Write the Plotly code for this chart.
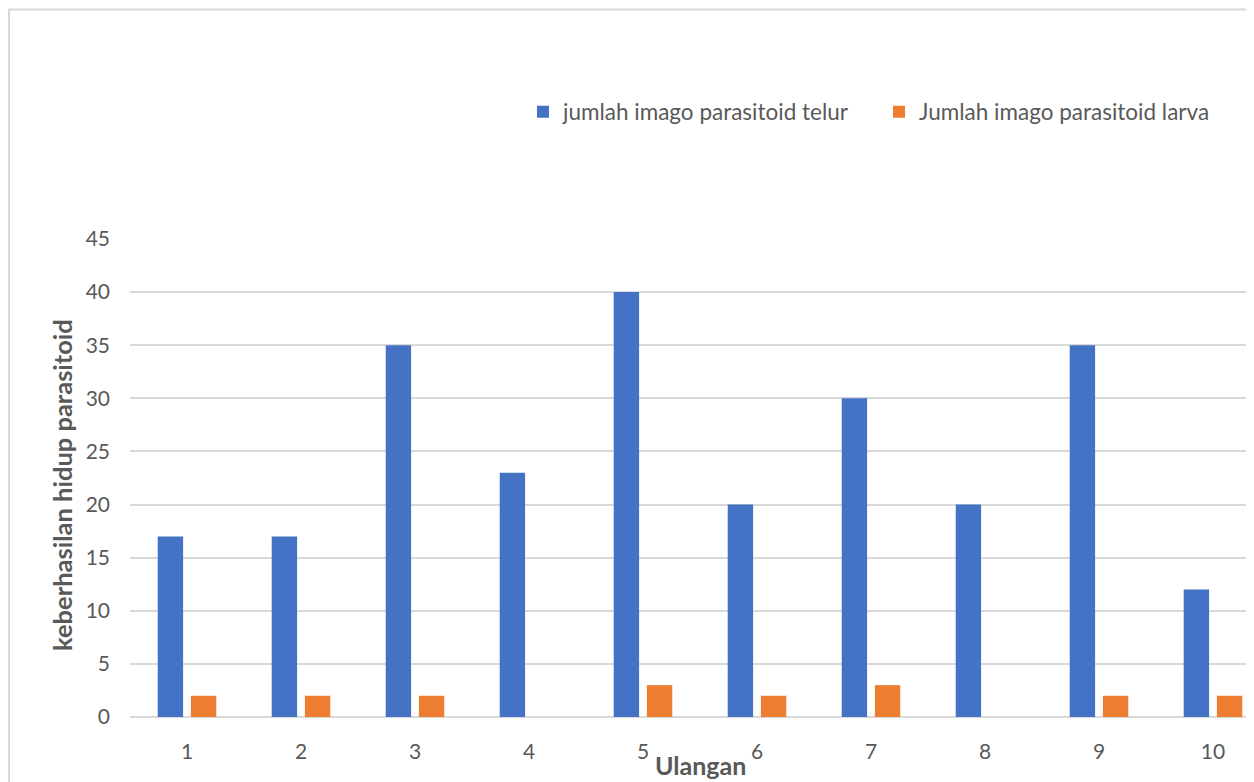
import plotly.graph_objects as go

categories = ["1", "2", "3", "4", "5", "6", "7", "8", "9", "10"]
telur = [17, 17, 35, 23, 40, 20, 30, 20, 35, 12]
larva = [2, 2, 2, 0, 3, 2, 3, 0, 2, 2]
y_ticks = [0, 5, 10, 15, 20, 25, 30, 35, 40, 45]

# page body has an 8px margin, so figure coords = screen coords - 8
OFF = 8
W, H = 1254, 782
L = 130 - OFF
T = 239 - OFF
BOTTOM = 717 - OFF
B = H - BOTTOM
R = 0
pw = W - L - R
ph = H - T - B
FONT = "Lato"
GRAY = "#595959"

fig = go.Figure()
fig.add_trace(go.Bar(x=list(range(1, 11)), y=telur, name="jumlah imago parasitoid telur",
                     marker=dict(color="#4472C4", line=dict(width=0))))
fig.add_trace(go.Bar(x=list(range(1, 11)), y=larva, name="Jumlah imago parasitoid larva",
                     marker=dict(color="#ED7D31", line=dict(width=0))))

spacing = 114.0
x0 = 0.5
x1 = x0 + pw / spacing

def px(x):
    return (x - OFF - L) / pw

def py(y):
    return (BOTTOM - (y - OFF)) / ph

fig.update_layout(
    width=W, height=H,
    margin=dict(l=L, r=R, t=T, b=B, pad=0, autoexpand=False),
    paper_bgcolor="white", plot_bgcolor="white",
    barmode="group", bargap=0.418, bargroupgap=0.235,
    font=dict(family=FONT, color=GRAY, size=21),
    showlegend=True,
    legend=dict(orientation="h", x=px(523), y=py(112),
                xanchor="left", yanchor="middle",
                font=dict(size=22.5, color=GRAY, family=FONT),
                entrywidth=311, entrywidthmode="pixels", itemwidth=30,
                bgcolor="rgba(0,0,0,0)"),
    xaxis=dict(range=[x0, x1], tickmode="array", tickvals=list(range(1, 11)),
               ticktext=categories, showgrid=False, zeroline=False,
               showline=False, ticks="", ticklabelstandoff=20,
               tickfont=dict(size=21, color=GRAY, family=FONT)),
    yaxis=dict(range=[0, 45], tickmode="array", tickvals=y_ticks,
               ticktext=[str(v) for v in y_ticks],
               showgrid=True, gridcolor="#d9d9d9", gridwidth=2,
               zeroline=True, zerolinecolor="#d9d9d9", zerolinewidth=2,
               showline=False, ticks="", ticklabelstandoff=19,
               tickfont=dict(size=21, color=GRAY, family=FONT)),
)

fig.add_shape(type="rect", xref="paper", yref="paper",
              x0=px(9), x1=1.2, y0=-0.5, y1=py(9.5),
              line=dict(color="#d9d9d9", width=2), fillcolor="rgba(0,0,0,0)", layer="below")

fig.add_annotation(text="<b>keberhasilan hidup parasitoid</b>", textangle=-90,
                   xref="paper", yref="paper", x=px(62), y=py(485),
                   xanchor="center", yanchor="middle", showarrow=False,
                   font=dict(size=25.5, color=GRAY, family=FONT))
fig.add_annotation(text="<b>Ulangan</b>", xref="paper", yref="paper",
                   x=px(700), y=py(765),
                   xanchor="center", yanchor="middle", showarrow=False,
                   font=dict(size=25, color=GRAY, family=FONT))

fig.write_html("out.html")
